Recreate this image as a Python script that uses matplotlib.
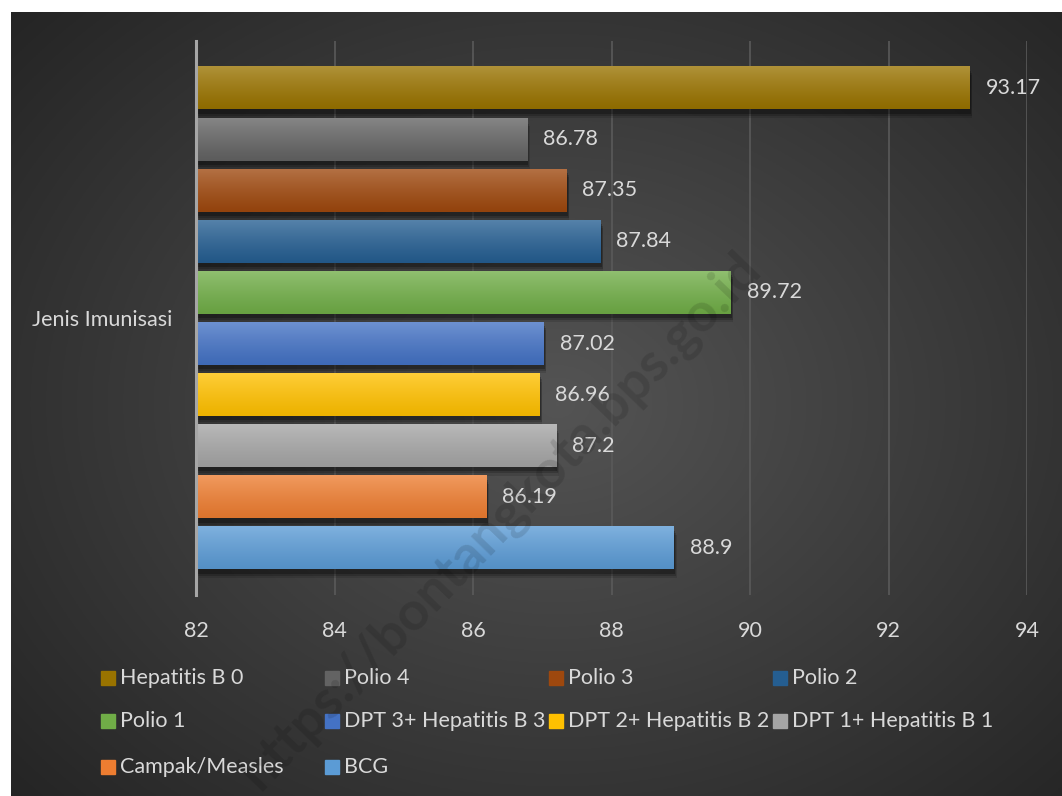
import numpy as np
import matplotlib.pyplot as plt
import matplotlib.patheffects as pe
from matplotlib.patches import Rectangle
from matplotlib.colors import to_rgb

plt.rcParams['font.family'] = ['Lato', 'DejaVu Sans']

# Cakupan imunisasi per jenis (persen)
series = ["Hepatitis B 0", "Polio 4", "Polio 3", "Polio 2", "Polio 1",
          "DPT 3+ Hepatitis B 3", "DPT 2+ Hepatitis B 2", "DPT 1+ Hepatitis B 1",
          "Campak/Measles", "BCG"]
values = [93.17, 86.78, 87.35, 87.84, 89.72, 87.02, 86.96, 87.2, 86.19, 88.9]
colors = ["#997300", "#636363", "#9e480e", "#255e91", "#70ad47",
          "#4472c4", "#ffc000", "#a5a5a5", "#ed7d31", "#5b9bd5"]
category = "Jenis Imunisasi"
xticks = [82, 84, 86, 88, 90, 92, 94]

txt_col = "#d9d9d9"
fs = 15.5
W, H = 1062, 796
fig = plt.figure(figsize=(W / 100, H / 100), dpi=100)
fig.patch.set_facecolor("white")

# latar gelap dengan gradasi radial
bg = fig.add_axes([11 / W, 0, 1 - 11 / W, 1 - 12 / H])
yy, xx = np.mgrid[0:1:400j, 0:1:500j]
r = np.sqrt(((xx - 0.52) / 0.75) ** 2 + ((yy - 0.5) / 0.8) ** 2)
shade = np.clip(1 - r, 0, 1)
lo, hi = np.array([0.13, 0.13, 0.13]), np.array([0.33, 0.33, 0.33])
img = lo + (hi - lo) * shade[..., None]
bg.imshow(img, aspect="auto", extent=[0, 1, 0, 1], origin="lower")
bg.set_axis_off()

ax = fig.add_axes([196 / W, 1 - 595 / H, (1027 - 196) / W, (595 - 41) / H])
ax.set_facecolor("none")

n = len(series)
ypos = np.arange(n)[::-1]
bar_h = 0.84
bars = ax.barh(ypos, [v - 82 for v in values], left=82, height=bar_h,
               color=colors, zorder=3)
# bayangan lembut di bawah batang
for b in bars:
    b.set_path_effects([
        pe.SimplePatchShadow(offset=(2, -6), shadow_rgbFace="black", alpha=0.12),
        pe.SimplePatchShadow(offset=(1.5, -4.5), shadow_rgbFace="black", alpha=0.18),
        pe.SimplePatchShadow(offset=(1, -3), shadow_rgbFace="black", alpha=0.25),
        pe.Normal()])

# gradasi terang di bagian atas setiap batang
for y, v, c in zip(ypos, values, colors):
    base = np.array(to_rgb(c))
    t = np.linspace(0, 1, 64)[:, None]
    top = base + (1 - base) * 0.22
    bot = base * 0.93
    grad = bot + (top - bot) * t ** 1.2
    ax.imshow(grad[:, None, :].repeat(2, axis=1), aspect="auto", origin="lower",
              extent=[82, v, y - bar_h / 2, y + bar_h / 2], zorder=4)
    ax.text(v + 0.23, y, f"{v:g}", va="center", ha="left", color=txt_col,
            fontsize=fs, zorder=5)

ax.set_xlim(82, 94)
ax.set_ylim(-0.92, n - 1 + 0.92)
ax.set_xticks(xticks)
ax.set_xticklabels([str(x) for x in xticks])
ax.set_yticks([(n - 1) / 2])
ax.set_yticklabels([category])
ax.tick_params(axis="both", length=0, colors=txt_col, labelsize=fs)
ax.tick_params(axis="x", pad=19)
ax.tick_params(axis="y", pad=17)
ax.grid(axis="x", color="#5a5a5a", lw=1.2, zorder=0)
for s in ["top", "right", "bottom"]:
    ax.spines[s].set_visible(False)
ax.spines["left"].set_color("#a6a6a6")
ax.spines["left"].set_linewidth(2.2)
ax.spines["left"].set_zorder(6)

# legenda manual: 4 kolom dengan lebar sama
col_x = [101, 325, 549, 773]
row_y = [678, 721, 767]
for i, (name, c) in enumerate(zip(series, colors)):
    cx, cy = col_x[i % 4], row_y[i // 4]
    fig.patches.append(Rectangle((cx / W, 1 - (cy + 7) / H), 14 / W, 14 / H,
                                 transform=fig.transFigure, color=c))
    fig.text((cx + 19) / W, 1 - cy / H, name, color=txt_col, fontsize=fs,
             va="center", ha="left")

# watermark
fig.text(500 / W, 1 - 520 / H, "https://bontangkota.bps.go.id", rotation=46,
         fontsize=39, fontweight="bold", color="black", alpha=0.12,
         ha="center", va="center", rotation_mode="anchor")

fig.savefig("out.png", dpi=100, facecolor=fig.get_facecolor())
